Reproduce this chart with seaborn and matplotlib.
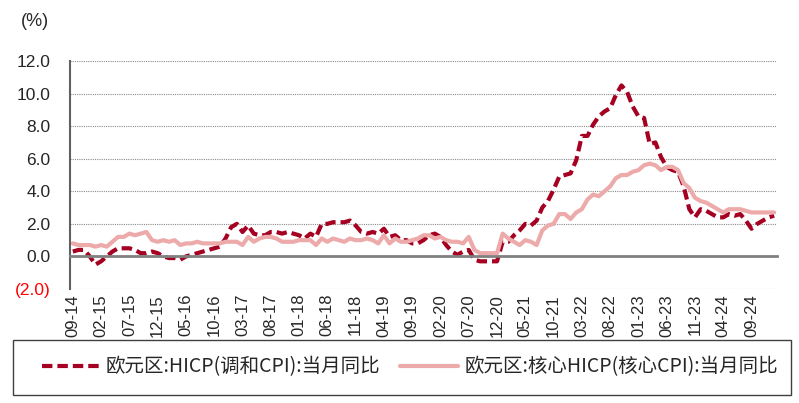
import pandas as pd
import seaborn as sns
import matplotlib.pyplot as plt
from matplotlib.patches import Rectangle
from matplotlib.ticker import FixedLocator, FuncFormatter

# monthly, 2014-09 .. 2025-01
months = pd.period_range("2014-09", "2025-01", freq="M")

hicp = (
    [0.3, 0.4, 0.4, 0.0]                                               # 2014
    + [-0.5, -0.3, 0.0, 0.3, 0.5, 0.5, 0.5, 0.4, 0.2, 0.2, 0.3, 0.2]   # 2015
    + [0.0, -0.1, -0.1, -0.2, 0.0, 0.1, 0.2, 0.3, 0.4, 0.5, 0.6, 1.1]  # 2016
    + [1.8, 2.0, 1.5, 1.9, 1.4, 1.3, 1.3, 1.5, 1.5, 1.4, 1.5, 1.4]     # 2017
    + [1.3, 1.1, 1.4, 1.2, 2.0, 2.0, 2.1, 2.1, 2.1, 2.2, 1.9, 1.5]     # 2018
    + [1.4, 1.5, 1.4, 1.7, 1.2, 1.3, 1.0, 1.0, 0.8, 0.8, 1.0, 1.3]     # 2019
    + [1.4, 1.2, 0.7, 0.3, 0.1, 0.3, 0.4, -0.2, -0.3, -0.3, -0.3, -0.3]  # 2020
    + [0.9, 0.9, 1.3, 1.6, 2.0, 1.9, 2.2, 3.0, 3.4, 4.1, 4.9, 5.0]     # 2021
    + [5.1, 5.9, 7.4, 7.4, 8.1, 8.6, 8.9, 9.1, 9.9, 10.5, 10.1, 9.2]   # 2022
    + [8.6, 8.5, 6.9, 7.0, 6.1, 5.5, 5.3, 5.2, 4.3, 2.9, 2.4, 2.9]     # 2023
    + [2.8, 2.6, 2.4, 2.4, 2.6, 2.5, 2.6, 2.2, 1.7, 2.0, 2.2, 2.4]     # 2024
    + [2.5]                                                            # 2025
)

core = (
    [0.8, 0.7, 0.7, 0.7]
    + [0.6, 0.7, 0.6, 0.9, 1.2, 1.2, 1.4, 1.3, 1.4, 1.5, 1.0, 0.9]
    + [1.0, 0.9, 1.0, 0.7, 0.8, 0.8, 0.9, 0.8, 0.8, 0.8, 0.8, 0.9]
    + [0.9, 0.9, 0.7, 1.2, 0.9, 1.1, 1.2, 1.2, 1.1, 0.9, 0.9, 0.9]
    + [1.0, 1.0, 1.0, 0.7, 1.1, 0.9, 1.1, 1.0, 0.9, 1.1, 1.0, 1.0]
    + [1.1, 1.0, 0.8, 1.3, 0.8, 1.1, 0.9, 0.9, 1.0, 1.1, 1.3, 1.3]
    + [1.1, 1.2, 1.0, 0.9, 0.9, 0.8, 1.2, 0.4, 0.2, 0.2, 0.2, 0.2]
    + [1.4, 1.1, 0.9, 0.7, 1.0, 0.9, 0.7, 1.6, 1.9, 2.0, 2.6, 2.6]
    + [2.3, 2.7, 2.9, 3.5, 3.8, 3.7, 4.0, 4.3, 4.8, 5.0, 5.0, 5.2]
    + [5.3, 5.6, 5.7, 5.6, 5.3, 5.5, 5.5, 5.3, 4.5, 4.2, 3.6, 3.4]
    + [3.3, 3.1, 2.9, 2.7, 2.9, 2.9, 2.9, 2.8, 2.7, 2.7, 2.7, 2.7]
    + [2.7]
)

hicp_label = "欧元区:HICP(调和CPI):当月同比"
core_label = "欧元区:核心HICP(核心CPI):当月同比"
y_ticks = [-2, 0, 2, 4, 6, 8, 10, 12]
label_step = 5

df = pd.DataFrame({"idx": range(len(months)), "hicp": hicp, "core": core})

sns.set_style("white")
plt.rcParams["font.family"] = ["Liberation Sans", "Noto Sans CJK SC", "DejaVu Sans"]

fig = plt.figure(figsize=(7.99, 4.03), dpi=100)
ax = fig.add_axes([70 / 799, 1 - 289 / 403, 707 / 799, 228 / 403])

sns.lineplot(data=df, x="idx", y="hicp", ax=ax, color="#A50021", lw=3, label=hicp_label)
ax.lines[-1].set_dashes((2.5, 1.2))
ax.lines[-1].set_dash_capstyle("butt")
sns.lineplot(data=df, x="idx", y="core", ax=ax, color="#EDAAAA", lw=3, label=core_label)

handles, labels = ax.get_legend_handles_labels()
ax.get_legend().remove()

ax.set_xlim(-0.5, len(months) - 0.5)
ax.set_ylim(-2, 12)
ax.set_xlabel("")
ax.set_ylabel("")

# y axis
ax.yaxis.set_major_locator(FixedLocator(y_ticks))
ax.yaxis.set_major_formatter(FuncFormatter(lambda v, p: f"({abs(v):.1f})" if v < 0 else f"{v:.1f}"))
ax.tick_params(axis="y", length=4, width=1.2, color="#606060", pad=10, labelsize=12.5)
for t in ax.get_yticklabels():
    if t.get_text().startswith("("):
        t.set_color("#FF0000")
ax.yaxis.grid(True, color="#8a8a8a", linestyle=(0, (1, 1)), lw=0.8)
ax.set_axisbelow(True)

# x axis: category axis crossing at 0
ax.xaxis.set_major_locator(FixedLocator(list(range(0, len(months), label_step))))
ax.xaxis.set_major_formatter(FuncFormatter(lambda v, p: months[int(round(v))].strftime("%m-%y")))
ax.xaxis.set_minor_locator(FixedLocator([i - 0.5 for i in range(0, len(months) + 1, label_step)]))
ax.tick_params(axis="x", which="major", length=0, pad=27, labelsize=12, labelrotation=90)
ax.tick_params(axis="x", which="minor", length=5, width=1.2, color="#808080", direction="out")

ax.spines["bottom"].set_position(("data", 0))
ax.spines["bottom"].set_color("#808080")
ax.spines["bottom"].set_linewidth(2)
ax.spines["left"].set_color("#606060")
ax.spines["left"].set_linewidth(1.5)
ax.spines["top"].set_visible(False)
ax.spines["right"].set_visible(False)

fig.text(35 / 799, 1 - 22 / 403, "(%)", ha="center", va="center", fontsize=13)

# legend box
fig.patches.append(Rectangle((12.7 / 799, 1 - 395 / 403), 778 / 799, 55 / 403,
                             transform=fig.transFigure, fill=False,
                             edgecolor="#404040", lw=1))
fig.legend(handles, labels, loc="center left", bbox_to_anchor=(32 / 799, 1 - 367 / 403),
           ncol=2, frameon=False, borderpad=0, handlelength=3.0, handletextpad=0.3,
           columnspacing=1.0, prop={"family": ["Noto Sans CJK SC"], "size": 14})

fig.savefig("out.png", dpi=100)
